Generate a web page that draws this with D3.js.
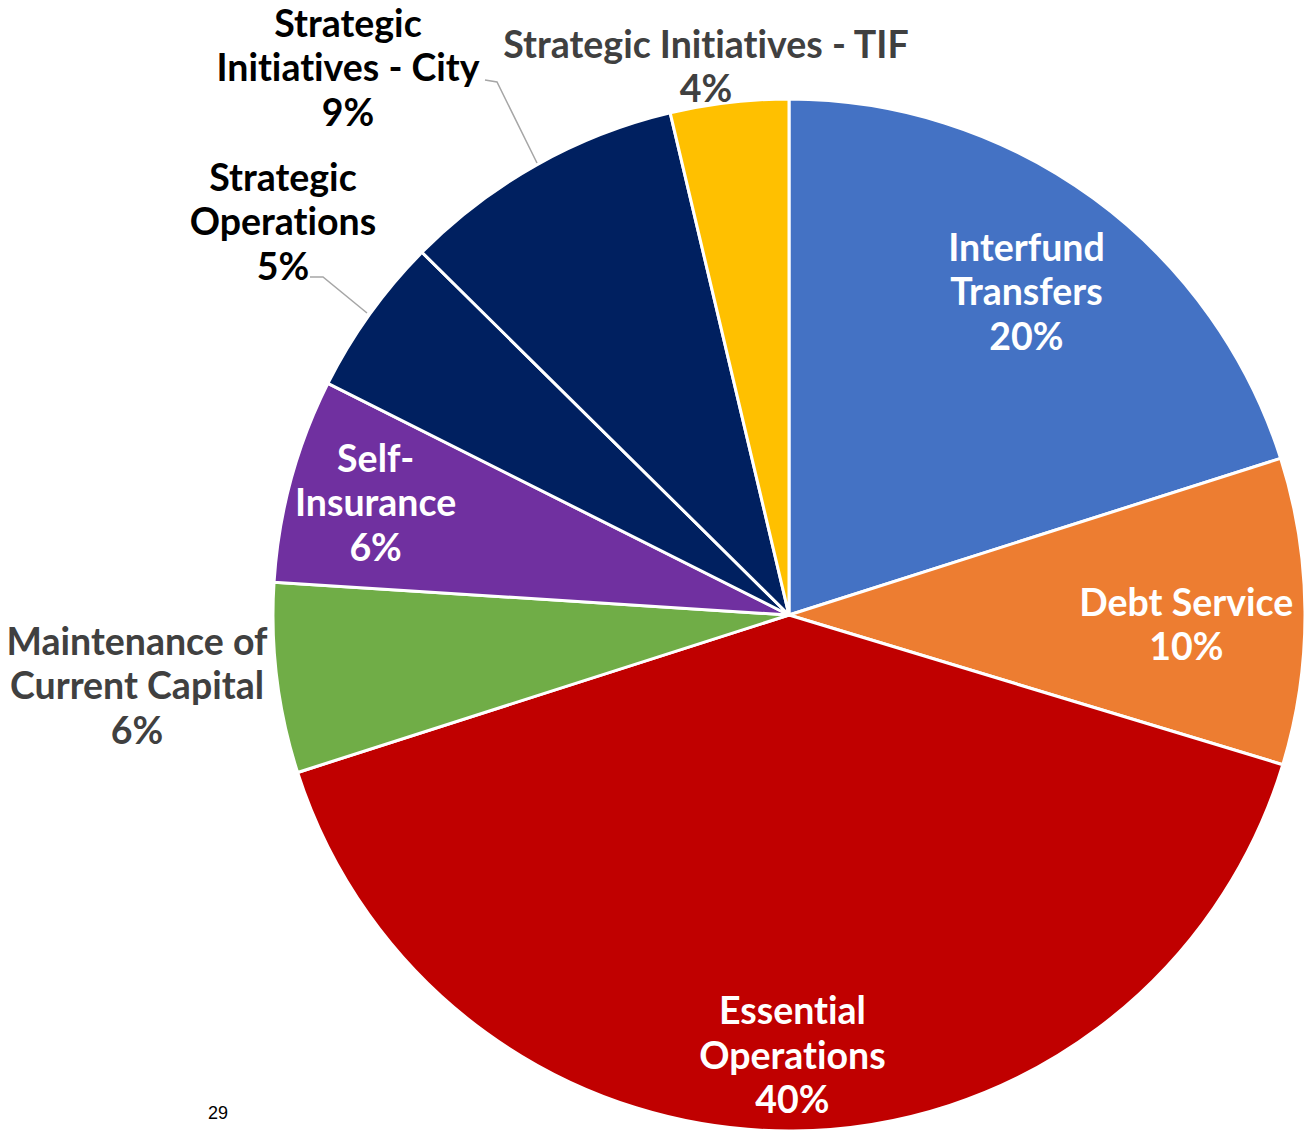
<!DOCTYPE html>
<html>
<head>
<meta charset="utf-8">
<script src="https://cdn.jsdelivr.net/npm/d3@7"></script>
<style>
  body { margin: 0; background: #fff; }
  svg { display: block; }
  text { font-variant-ligatures: none; font-feature-settings: "liga" 0; }
</style>
</head>
<body>
<svg id="chart"></svg>
<script>
const categories = [
  "Interfund Transfers",
  "Debt Service",
  "Essential Operations",
  "Maintenance of Current Capital",
  "Self-Insurance",
  "Strategic Operations",
  "Strategic Initiatives - City",
  "Strategic Initiatives - TIF",
];
const values = [20.1, 9.6, 40.4, 5.95, 6.4, 5.0, 8.9, 3.7];
const labelLines = [
  ["Interfund", "Transfers"],
  ["Debt Service"],
  ["Essential", "Operations"],
  ["Maintenance of", "Current Capital"],
  ["Self-", "Insurance"],
  ["Strategic", "Operations"],
  ["Strategic", "Initiatives - City"],
  ["Strategic Initiatives - TIF"],
];
const colors = ["#4472C4", "#ED7D31", "#C00000", "#70AD47", "#7030A0", "#002060", "#002060", "#FFC000"];
const pageNote = "29";

const width = 1307;
const height = 1131;
const cx = 789, cy = 615, radius = 516;

// label placement: inside (fraction of radius) or outside with a leader line
const labelSpec = [
  { r: 0.78, dy: 0, fill: "#fff" },
  { r: 0.77, dy: 11, fill: "#fff" },
  { r: 0.85, dy: 0, fill: "#fff" },
  { x: 137, y: 684, fill: "#404040" },
  { r: 0.83, dy: -2, fill: "#fff" },
  { x: 283, y: 220, fill: "#000", leader: [[310, 277], [323, 277], [367, 313]] },
  { x: 348, y: 66, fill: "#000", leader: [[485, 80], [497, 82], [537, 163]] },
  { x: 706, y: 65, fill: "#404040" },
];

const svg = d3.select("#chart").attr("width", width).attr("height", height);

const data = categories.map((name, i) => ({ name, value: values[i], i }));
const total = d3.sum(values);

const pie = d3.pie().value((d) => d.value).sort(null);
const arc = d3.arc().innerRadius(0).outerRadius(radius);
const arcs = pie(data);

const g = svg.append("g").attr("transform", `translate(${cx},${cy})`);

g.selectAll("path")
  .data(arcs)
  .enter()
  .append("path")
  .attr("d", arc)
  .attr("fill", (d) => colors[d.data.i])
  .attr("stroke", "#fff")
  .attr("stroke-width", 3)
  .attr("stroke-linejoin", "round");

// leader lines
labelSpec.forEach((s) => {
  if (!s.leader) return;
  svg.append("polyline")
    .attr("points", s.leader.map((p) => p.join(",")).join(" "))
    .attr("fill", "none")
    .attr("stroke", "#A6A6A6")
    .attr("stroke-width", 1.5);
});

const lineH = 44.5;
arcs.forEach((d) => {
  const s = labelSpec[d.data.i];
  const lines = labelLines[d.data.i].concat([Math.round((d.data.value / total) * 100) + "%"]);
  let x, y;
  if (s.r !== undefined) {
    const c = d3.arc().innerRadius(radius * s.r).outerRadius(radius * s.r).centroid(d);
    x = cx + c[0];
    y = cy + c[1] + s.dy;
  } else {
    x = s.x;
    y = s.y;
  }
  const t = svg.append("text")
    .attr("x", x)
    .attr("y", y - ((lines.length - 1) * lineH) / 2)
    .attr("text-anchor", "middle")
    .attr("dominant-baseline", "central")
    .attr("font-family", "Lato, sans-serif")
    .attr("font-weight", "bold")
    .attr("font-size", "37.5px")
    .attr("fill", s.fill);
  lines.forEach((ln, k) => {
    t.append("tspan").attr("x", x).attr("dy", k === 0 ? 0 : lineH).text(ln);
  });
});

svg.append("text")
  .attr("x", 218)
  .attr("y", 1119)
  .attr("text-anchor", "middle")
  .attr("font-family", "Liberation Sans, Arial, sans-serif")
  .attr("font-size", "18px")
  .attr("fill", "#000")
  .text(pageNote);
</script>
</body>
</html>
